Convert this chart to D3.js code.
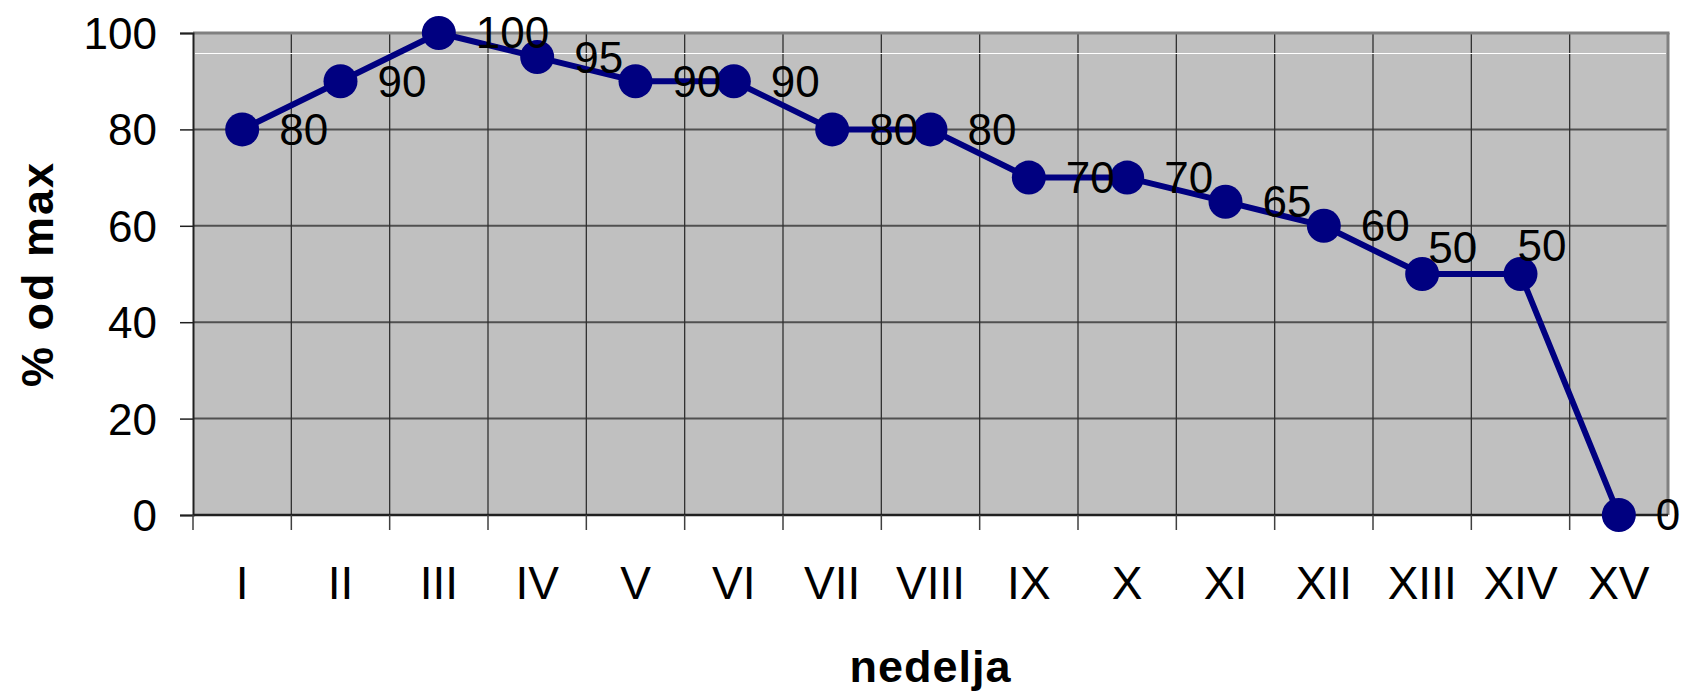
<!DOCTYPE html>
<html>
<head>
<meta charset="utf-8">
<script src="https://cdn.jsdelivr.net/npm/d3@7"></script>
<style>
  html, body { margin: 0; padding: 0; background: #fff; }
  svg { display: block; }
  text { font-family: "Liberation Sans", Arial, sans-serif; fill: #000; }
</style>
</head>
<body>
<svg id="chart" width="1682" height="692"></svg>
<script>
// ---- data ----
const categories = ["I","II","III","IV","V","VI","VII","VIII","IX","X","XI","XII","XIII","XIV","XV"];
const values = [80, 90, 100, 95, 90, 90, 80, 80, 70, 70, 65, 60, 50, 50, 0];
const yTicks = [0, 20, 40, 60, 80, 100];
const xTitle = "nedelja";
const yTitle = "% od max";

// ---- layout ----
const W = 1682, H = 692;
const plot = { left: 193, right: 1668, top: 33, bottom: 515 };
const navy = "#000080";
// manual nudges for a couple of data labels (as in the reference)
const labelNudge = { "XIII": { dx: -31, dy: -26 }, "XIV": { dx: -40, dy: -28 } };

const svg = d3.select("#chart");

const x = d3.scaleBand().domain(categories).range([plot.left, plot.right]).padding(0);
const y = d3.scaleLinear().domain([0, 100]).range([plot.bottom, plot.top]);
const cx = c => x(c) + x.bandwidth() / 2;

// plot background
svg.append("rect")
  .attr("x", plot.left).attr("y", plot.top)
  .attr("width", plot.right - plot.left).attr("height", plot.bottom - plot.top)
  .attr("fill", "#C0C0C0");

// horizontal gridlines
svg.append("g").selectAll("line")
  .data(yTicks.filter(v => v > 0 && v < 100))
  .join("line")
  .attr("x1", plot.left).attr("x2", plot.right)
  .attr("y1", d => y(d)).attr("y2", d => y(d))
  .attr("stroke", "#505050").attr("stroke-width", 2);

// vertical gridlines at band boundaries
svg.append("g").selectAll("line")
  .data(categories.slice(1))
  .join("line")
  .attr("x1", d => x(d)).attr("x2", d => x(d))
  .attr("y1", plot.top).attr("y2", plot.bottom)
  .attr("stroke", "#303030").attr("stroke-width", 1.3);

// thin white line near top (artifact in reference)
svg.append("line")
  .attr("x1", plot.left + 2).attr("x2", plot.right - 2)
  .attr("y1", 53.5).attr("y2", 53.5)
  .attr("stroke", "#ffffff").attr("stroke-width", 1.2);

// plot border: top and right gray
svg.append("line")
  .attr("x1", plot.left).attr("x2", plot.right + 1.5)
  .attr("y1", plot.top).attr("y2", plot.top)
  .attr("stroke", "#808080").attr("stroke-width", 3);
svg.append("line")
  .attr("x1", plot.right).attr("x2", plot.right)
  .attr("y1", plot.top).attr("y2", plot.bottom)
  .attr("stroke", "#808080").attr("stroke-width", 3);

// y axis
const yAxis = d3.axisLeft(y).tickValues(yTicks).tickSize(13).tickPadding(23);
const gy = svg.append("g").attr("transform", `translate(${plot.left},0)`).call(yAxis);
gy.select(".domain").attr("stroke", "#202020").attr("stroke-width", 2);
gy.selectAll(".tick line").attr("stroke", "#202020").attr("stroke-width", 1.5);
gy.selectAll(".tick text")
  .attr("font-size", 44).attr("font-family", "Liberation Sans, Arial, sans-serif")
  .attr("fill", "#000").attr("dy", "0.35em");

// x axis baseline
svg.append("line")
  .attr("x1", plot.left).attr("x2", plot.right)
  .attr("y1", plot.bottom).attr("y2", plot.bottom)
  .attr("stroke", "#202020").attr("stroke-width", 2.5);

// x ticks at band boundaries
svg.append("g").selectAll("line")
  .data(categories)
  .join("line")
  .attr("x1", d => x(d)).attr("x2", d => x(d))
  .attr("y1", plot.bottom).attr("y2", plot.bottom + 15)
  .attr("stroke", "#404040").attr("stroke-width", 1.5);

// x labels via axis (centered in bands)
const xAxis = d3.axisBottom(x).tickSize(0).tickPadding(51);
const gx = svg.append("g").attr("transform", `translate(0,${plot.bottom})`).call(xAxis);
gx.select(".domain").remove();
gx.selectAll(".tick text")
  .attr("font-size", 46).attr("font-family", "Liberation Sans, Arial, sans-serif")
  .attr("fill", "#000");

// series line
const line = d3.line().x((d, i) => cx(categories[i])).y(d => y(d));
svg.append("path")
  .datum(values)
  .attr("d", line)
  .attr("fill", "none")
  .attr("stroke", navy)
  .attr("stroke-width", 6)
  .attr("stroke-linejoin", "round");

// markers
svg.append("g").selectAll("circle")
  .data(values)
  .join("circle")
  .attr("cx", (d, i) => cx(categories[i]))
  .attr("cy", d => y(d))
  .attr("r", 17)
  .attr("fill", navy);

// data labels
svg.append("g").selectAll("text")
  .data(values)
  .join("text")
  .attr("x", (d, i) => cx(categories[i]) + 37 + ((labelNudge[categories[i]] || {}).dx || 0))
  .attr("y", (d, i) => y(d) + ((labelNudge[categories[i]] || {}).dy || 0))
  .attr("dy", "0.35em")
  .attr("font-size", 44)
  .text(d => d);

// axis titles
svg.append("text")
  .attr("x", (plot.left + plot.right) / 2)
  .attr("y", 682)
  .attr("text-anchor", "middle")
  .attr("font-size", 45)
  .attr("font-weight", "bold")
  .attr("letter-spacing", 1)
  .text(xTitle);

svg.append("text")
  .attr("transform", `translate(53,${(plot.top + plot.bottom) / 2}) rotate(-90)`)
  .attr("text-anchor", "middle")
  .attr("font-size", 45)
  .attr("font-weight", "bold")
  .attr("letter-spacing", 2)
  .text(yTitle);
</script>
</body>
</html>
